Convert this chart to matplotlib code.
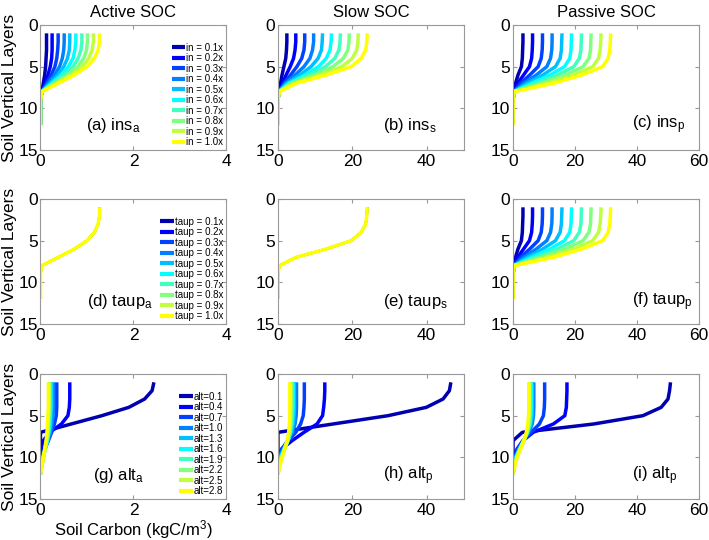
import matplotlib
matplotlib.use("Agg")
import matplotlib.pyplot as plt

plt.rcParams['font.family'] = ['Liberation Sans', 'DejaVu Sans']
plt.rcParams['mathtext.fontset'] = 'custom'
plt.rcParams['mathtext.rm'] = 'Liberation Sans'
plt.rcParams['mathtext.it'] = 'Liberation Sans:italic'

# soil layer index (y axis)
depth = [1, 2, 3, 4, 5, 6, 7, 8, 9, 10, 11, 12]

# MATLAB jet(16), first ten colours
colors = ['#0000b0', '#0000ff', '#0040ff', '#0080ff', '#00bfff',
          '#00ffff', '#40ffbf', '#80ff80', '#bfff40', '#ffff00']

ins_labels = ['in = 0.1x', 'in = 0.2x', 'in = 0.3x', 'in = 0.4x', 'in = 0.5x',
              'in = 0.6x', 'in = 0.7x', 'in = 0.8x', 'in = 0.9x', 'in = 1.0x']
taup_labels = ['taup = 0.1x', 'taup = 0.2x', 'taup = 0.3x', 'taup = 0.4x', 'taup = 0.5x',
               'taup = 0.6x', 'taup = 0.7x', 'taup = 0.8x', 'taup = 0.9x', 'taup = 1.0x']
alt_labels = ['alt=0.1', 'alt=0.4', 'alt=0.7', 'alt=1.0', 'alt=1.3',
              'alt=1.6', 'alt=1.9', 'alt=2.2', 'alt=2.5', 'alt=2.8']

# active SOC, input scaling
ins_a = [
    [0.13, 0.13, 0.13, 0.12, 0.11, 0.09, 0.06, 0.03, 0, 0, 0, 0],
    [0.25, 0.25, 0.25, 0.24, 0.21, 0.16, 0.09, 0.03, 0, 0, 0, 0],
    [0.38, 0.38, 0.37, 0.35, 0.31, 0.23, 0.13, 0.03, 0, 0, 0, 0],
    [0.51, 0.51, 0.50, 0.47, 0.41, 0.30, 0.16, 0.03, 0, 0, 0, 0],
    [0.63, 0.63, 0.62, 0.58, 0.50, 0.37, 0.20, 0.03, 0, 0, 0, 0],
    [0.76, 0.76, 0.74, 0.70, 0.60, 0.44, 0.24, 0.03, 0, 0, 0, 0],
    [0.89, 0.89, 0.87, 0.81, 0.70, 0.51, 0.27, 0.03, 0, 0, 0, 0],
    [1.01, 1.01, 0.99, 0.93, 0.80, 0.58, 0.31, 0.03, 0, 0, 0, 0],
    [1.14, 1.14, 1.11, 1.04, 0.90, 0.66, 0.34, 0.03, 0, 0, 0, 0],
    [1.27, 1.27, 1.24, 1.16, 1.00, 0.73, 0.38, 0.03, 0, 0, 0, 0],
]

# slow SOC, input scaling
ins_s = [
    [2.4, 2.4, 2.3, 2.1, 1.6, 1.1, 0.7, 0.3, 0, 0, 0, 0],
    [4.8, 4.8, 4.6, 4.2, 3.3, 2.2, 1.2, 0.3, 0, 0, 0, 0],
    [7.2, 7.2, 7.0, 6.4, 5.1, 3.4, 1.6, 0.3, 0, 0, 0, 0],
    [9.6, 9.6, 9.3, 8.6, 7.0, 4.6, 2.0, 0.3, 0, 0, 0, 0],
    [12.0, 11.9, 11.7, 10.8, 8.9, 5.9, 2.4, 0.3, 0, 0, 0, 0],
    [14.4, 14.3, 14.0, 13.0, 10.9, 7.2, 2.9, 0.3, 0, 0, 0, 0],
    [16.8, 16.7, 16.4, 15.3, 12.8, 8.5, 3.3, 0.3, 0, 0, 0, 0],
    [19.2, 19.1, 18.8, 17.6, 14.8, 9.8, 3.8, 0.3, 0, 0, 0, 0],
    [21.6, 21.5, 21.2, 20.0, 17.2, 11.4, 4.3, 0.3, 0, 0, 0, 0],
    [24.0, 23.9, 23.6, 22.4, 19.7, 13.0, 4.9, 0.4, 0, 0, 0, 0],
]

# passive SOC, input scaling
ins_p = [
    [3.2, 3.2, 3.1, 3.0, 2.7, 1.6, 0.8, 0.3, 0, 0, 0, 0],
    [6.3, 6.3, 6.2, 6.0, 5.3, 3.4, 1.5, 0.3, 0, 0, 0, 0],
    [9.5, 9.5, 9.4, 9.1, 8.1, 5.4, 2.4, 0.3, 0, 0, 0, 0],
    [12.6, 12.6, 12.5, 12.1, 10.9, 7.5, 3.4, 0.3, 0, 0, 0, 0],
    [15.8, 15.7, 15.6, 15.2, 13.7, 9.6, 4.5, 0.3, 0, 0, 0, 0],
    [18.9, 18.8, 18.7, 18.3, 16.6, 11.9, 5.9, 0.3, 0, 0, 0, 0],
    [22.1, 22.0, 21.9, 21.4, 19.6, 14.3, 7.4, 0.3, 0, 0, 0, 0],
    [25.2, 25.1, 25.0, 24.5, 22.6, 16.8, 9.1, 0.3, 0, 0, 0, 0],
    [28.4, 28.3, 28.1, 27.6, 25.7, 19.5, 11.0, 0.3, 0, 0, 0, 0],
    [31.5, 31.4, 31.2, 30.7, 28.9, 22.2, 13.0, 0.3, 0, 0, 0, 0],
]

# turnover (taup) scaling: active and slow profiles do not change
taup_a = [1.27, 1.27, 1.24, 1.16, 1.00, 0.73, 0.38, 0.03, 0, 0, 0, 0]
taup_s = [24.0, 23.9, 23.6, 22.4, 19.7, 13.0, 4.9, 0.4, 0, 0, 0, 0]
taup_p = [
    [3.2, 3.2, 3.1, 3.0, 2.7, 1.6, 0.8, 0.3, 0, 0, 0, 0],
    [6.3, 6.3, 6.2, 6.0, 5.3, 3.4, 1.5, 0.3, 0, 0, 0, 0],
    [9.5, 9.5, 9.4, 9.1, 8.1, 5.4, 2.4, 0.3, 0, 0, 0, 0],
    [12.6, 12.6, 12.5, 12.1, 10.9, 7.5, 3.4, 0.3, 0, 0, 0, 0],
    [15.8, 15.7, 15.6, 15.2, 13.7, 9.6, 4.5, 0.3, 0, 0, 0, 0],
    [18.9, 18.8, 18.7, 18.3, 16.6, 11.9, 5.9, 0.3, 0, 0, 0, 0],
    [22.1, 22.0, 21.9, 21.4, 19.6, 14.3, 7.4, 0.3, 0, 0, 0, 0],
    [25.2, 25.1, 25.0, 24.5, 22.6, 16.8, 9.1, 0.3, 0, 0, 0, 0],
    [28.4, 28.3, 28.1, 27.6, 25.7, 19.5, 11.0, 0.3, 0, 0, 0, 0],
    [31.5, 31.4, 31.2, 30.7, 28.9, 22.2, 13.0, 0.3, 0, 0, 0, 0],
]

# active layer thickness
alt_a = [
    [2.44, 2.40, 2.24, 1.90, 1.32, 0.66, 0.0, 0, 0, 0, 0, 0],
    [0.63, 0.63, 0.63, 0.62, 0.59, 0.45, 0.20, 0.06, 0.02, 0, 0, 0],
    [0.35, 0.35, 0.35, 0.35, 0.34, 0.30, 0.24, 0.17, 0.09, 0.02, 0, 0],
    [0.28, 0.28, 0.28, 0.28, 0.27, 0.25, 0.21, 0.16, 0.10, 0.04, 0.01, 0],
    [0.24, 0.24, 0.24, 0.24, 0.23, 0.22, 0.19, 0.15, 0.10, 0.05, 0.02, 0],
    [0.22, 0.22, 0.22, 0.22, 0.21, 0.20, 0.18, 0.15, 0.10, 0.06, 0.02, 0],
    [0.20, 0.20, 0.20, 0.20, 0.19, 0.18, 0.17, 0.14, 0.10, 0.06, 0.03, 0],
    [0.19, 0.19, 0.19, 0.19, 0.18, 0.17, 0.16, 0.13, 0.10, 0.06, 0.03, 0],
    [0.18, 0.18, 0.18, 0.18, 0.17, 0.16, 0.15, 0.13, 0.10, 0.07, 0.03, 0],
    [0.17, 0.17, 0.17, 0.17, 0.16, 0.15, 0.14, 0.12, 0.09, 0.06, 0.03, 0],
]
alt_s = [
    [46.5, 46.1, 44.4, 39.9, 29.6, 14.8, 0.0, 0, 0, 0, 0, 0],
    [12.6, 12.6, 12.5, 12.3, 12.0, 10.5, 7.0, 3.8, 1.0, 0, 0, 0],
    [7.1, 7.1, 7.1, 7.0, 6.8, 6.1, 4.8, 2.7, 1.0, 0.2, 0, 0],
    [5.0, 5.0, 5.0, 5.0, 4.9, 4.6, 3.9, 2.7, 1.4, 0.4, 0, 0],
    [4.4, 4.4, 4.4, 4.4, 4.3, 4.1, 3.6, 2.7, 1.6, 0.6, 0.1, 0],
    [4.1, 4.1, 4.1, 4.1, 4.0, 3.8, 3.4, 2.7, 1.7, 0.8, 0.2, 0],
    [3.8, 3.8, 3.8, 3.8, 3.7, 3.6, 3.3, 2.7, 1.8, 0.9, 0.3, 0],
    [3.6, 3.6, 3.6, 3.6, 3.5, 3.4, 3.1, 2.6, 1.8, 1.0, 0.4, 0],
    [3.4, 3.4, 3.4, 3.4, 3.3, 3.2, 3.0, 2.5, 1.8, 1.1, 0.4, 0],
    [3.2, 3.2, 3.2, 3.2, 3.2, 3.1, 2.9, 2.5, 1.8, 1.1, 0.5, 0],
]
alt_p = [
    [50.8, 50.5, 50.0, 47.8, 41.9, 26.0, 3.0, 0.0, 0, 0, 0, 0],
    [17.4, 17.4, 17.3, 17.2, 16.7, 13.0, 6.5, 3.2, 1.3, 0.3, 0, 0],
    [10.2, 10.2, 10.2, 10.1, 9.8, 8.5, 5.8, 3.2, 1.5, 0.5, 0, 0],
    [6.7, 6.7, 6.7, 6.7, 6.6, 6.2, 5.0, 3.4, 1.9, 0.8, 0.2, 0],
    [6.2, 6.2, 6.2, 6.2, 6.1, 5.8, 4.8, 3.4, 2.0, 0.9, 0.3, 0],
    [5.9, 5.9, 5.9, 5.9, 5.8, 5.5, 4.7, 3.4, 2.1, 1.0, 0.4, 0],
    [5.6, 5.6, 5.6, 5.6, 5.5, 5.3, 4.6, 3.5, 2.2, 1.1, 0.4, 0],
    [5.4, 5.4, 5.4, 5.4, 5.3, 5.1, 4.5, 3.5, 2.3, 1.2, 0.5, 0],
    [5.2, 5.2, 5.2, 5.2, 5.1, 4.9, 4.4, 3.5, 2.3, 1.3, 0.5, 0],
    [5.1, 5.1, 5.1, 5.1, 5.0, 4.8, 4.3, 3.5, 2.4, 1.3, 0.6, 0],
]

panels = [
    (ins_a, ins_labels, r'(a) ins$_\mathrm{a}$', (0.245, 0.20), 4, [0, 2, 4]),
    (ins_s, None, r'(b) ins$_\mathrm{s}$', (0.565, 0.20), 50, [0, 20, 40]),
    (ins_p, None, r'(c) ins$_\mathrm{p}$', (0.64, 0.20), 60, [0, 20, 40, 60]),
    ([taup_a] * 10, taup_labels, r'(d) taup$_\mathrm{a}$', (0.25, 0.18), 4, [0, 2, 4]),
    ([taup_s] * 10, None, r'(e) taup$_\mathrm{s}$', (0.565, 0.18), 50, [0, 20, 40]),
    (taup_p, None, r'(f) taup$_\mathrm{p}$', (0.64, 0.18), 60, [0, 20, 40, 60]),
    (alt_a, alt_labels, r'(g) alt$_\mathrm{a}$', (0.28, 0.19), 4, [0, 2, 4]),
    (alt_s, None, r'(h) alt$_\mathrm{p}$', (0.565, 0.19), 50, [0, 20, 40]),
    (alt_p, None, r'(i) alt$_\mathrm{p}$', (0.64, 0.19), 60, [0, 20, 40, 60]),
]

col_left = [0.0571, 0.392, 0.7236]
row_bottom = [0.7222, 0.40, 0.0759]
titles = ['Active SOC', 'Slow SOC', 'Passive SOC']

fig = plt.figure(figsize=(7.09, 5.40), dpi=100)

for i, (data, labels, tag, tagpos, xmax, xt) in enumerate(panels):
    r, c = divmod(i, 3)
    ax = fig.add_axes([col_left[c], row_bottom[r], 0.2623, 0.2315])
    same = all(p == data[-1] for p in data)
    for j, prof in enumerate(data):
        lab = labels[j] if labels else None
        # identical profiles: keep the hidden ones inside the top (yellow) line
        lw = 1.6 if (same and j < len(data) - 1) else 2.5
        ax.plot(prof, depth, color=colors[j], lw=lw, label=lab,
                solid_capstyle='butt')
    ax.set_xlim(0, xmax)
    ax.set_ylim(15, 0)
    ax.set_xticks(xt)
    ax.set_yticks([0, 5, 10, 15])
    ax.tick_params(direction='in', top=True, right=True, length=3,
                   color='#999999', labelsize=12.5)
    ax.tick_params(axis='x', pad=3)
    ax.tick_params(axis='y', pad=2)
    for s in ax.spines.values():
        s.set_color('#999999')
        s.set_linewidth(0.8)
    ax.text(tagpos[0], tagpos[1], tag, transform=ax.transAxes,
            fontsize=12, va='center', ha='left')
    if labels:
        leg = ax.legend(loc='lower right', bbox_to_anchor=(1.0, 0.0),
                        frameon=False, fontsize=7, handlelength=1.4,
                        handletextpad=0.1, labelspacing=0.05, borderpad=0.1,
                        borderaxespad=0.2)
        for ln in leg.get_lines():
            ln.set_linewidth(3)
    if c == 0:
        ax.set_ylabel('Soil Vertical Layers', fontsize=12.5, labelpad=1)
    if r == 0:
        ax.set_title(titles[c], fontsize=12, pad=6)
    if r == 2 and c == 0:
        ax.set_xlabel(r'Soil Carbon (kgC/m$^3$)', fontsize=12, labelpad=0)

fig.savefig('out.png', dpi=100)
